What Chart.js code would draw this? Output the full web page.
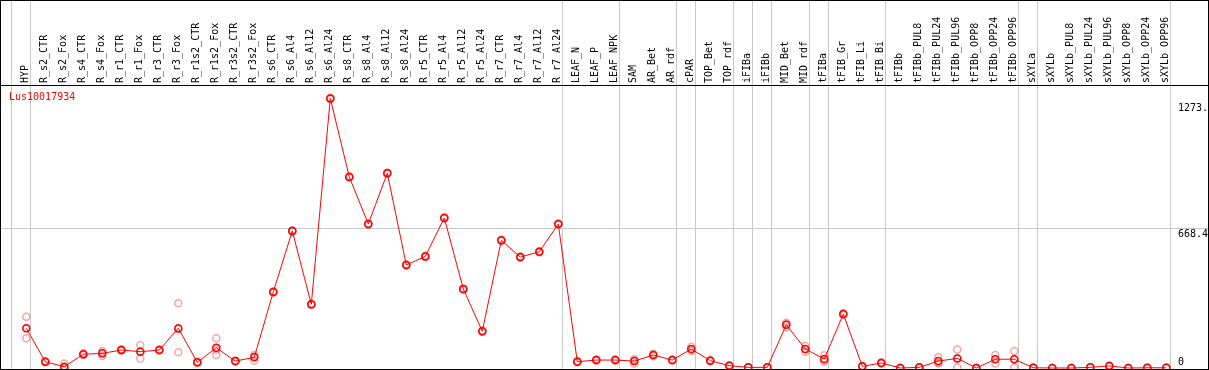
<!DOCTYPE html>
<html>
<head>
<meta charset="utf-8">
<script src="https://cdn.jsdelivr.net/npm/chart.js@4/dist/chart.umd.min.js"></script>
<style>
html,body{margin:0;padding:0;background:#fff;}
#wrap{position:relative;width:1209px;height:370px;}
</style>
</head>
<body>
<div id="wrap"><canvas id="c"></canvas></div>
<script>
const seriesName = 'Lus10017934';
const categories = ['HYP','R_s2_CTR','R_s2_Fox','R_s4_CTR','R_s4_Fox','R_r1_CTR','R_r1_Fox','R_r3_CTR','R_r3_Fox','R_r1s2_CTR','R_r1s2_Fox','R_r3s2_CTR','R_r3s2_Fox',
  'R_s6_CTR','R_s6_Al4','R_s6_Al12','R_s6_Al24','R_s8_CTR','R_s8_Al4','R_s8_Al12','R_s8_Al24','R_r5_CTR','R_r5_Al4','R_r5_Al12','R_r5_Al24','R_r7_CTR','R_r7_Al4','R_r7_Al12','R_r7_Al24',
  'LEAF_N','LEAF_P','LEAF_NPK','SAM','AR_Bet','AR_rdf','cPAR','TOP_Bet','TOP_rdf','iFIBa','iFIBb','MID_Bet','MID_rdf','tFIBa','tFIB_Gr','tFIB_Li','tFIB_Bi',
  'tFIBb','tFIBb_PUL8','tFIBb_PUL24','tFIBb_PUL96','tFIBb_OPP8','tFIBb_OPP24','tFIBb_OPP96','sXYLa','sXYLb','sXYLb_PUL8','sXYLb_PUL24','sXYLb_PUL96','sXYLb_OPP8','sXYLb_OPP24','sXYLb_OPP96'];

const meanValues = [190,30,6,66,70,86,78,86,190,27,97,33,51,
  364,656,305,1290,914,689,932,493,534,718,378,176,611,531,556,689,30,
  38,38,33,62,38,91,35,11,3,3,207,91,43,258,8,24,
  0,3,33,46,0,42,42,1,0,0,3,10,0,1,1];
const repA = [245,32,22,70,81,90,110,88,310,30,142,35,62,
  367,659,308,1293,917,692,935,496,537,721,381,179,614,534,559,692,33,
  41,41,42,68,41,102,38,13,4,4,217,105,61,262,10,27,
  0,4,51,89,0,62,81,2,0,0,4,12,0,2,2];
const repB = [142,28,0,62,57,82,45,84,75,24,62,31,35,
  361,653,302,1287,911,686,929,490,531,715,375,173,608,528,553,686,27,
  35,35,22,56,35,81,32,9,2,2,195,78,38,254,6,21,
  0,2,25,3,0,22,3,0,0,0,2,8,0,0,0];
const repC = [190,30,0,66,72,86,80,86,185,27,87,33,56,
  364,656,305,1290,914,689,932,493,534,718,378,176,611,531,556,689,30,
  38,38,35,62,38,90,35,11,3,3,209,90,30,258,8,24,
  0,3,23,46,0,42,42,1,0,0,3,10,0,1,1];

const separatorsAfter = [-1,0,28,31,34,35,37,38,39,41,42,45,52,53,60];
const yTickValues = [1273, 668.4, 0];
const yTickLabels = ['1273.', '668.4', '0'];
const yGridValues = [668.4];

const FONT = '"DejaVu Sans Mono", "Liberation Mono", monospace';
const toPts = arr => arr.map((v,i)=>({x:i,y:v}));

const repStyle = {
  showLine:false, pointRadius:3.5, pointBorderWidth:1.5,
  pointBorderColor:'rgba(232,110,110,0.6)', pointBackgroundColor:'rgba(0,0,0,0)',
  borderColor:'rgba(0,0,0,0)', order:2
};

const decor = {
  id:'decor',
  beforeDatasetsDraw(chart){
    const ctx = chart.ctx, xs = chart.scales.x, ys = chart.scales.y, a = chart.chartArea;
    ctx.save();
    ctx.strokeStyle = '#c8c8c8'; ctx.lineWidth = 1;
    separatorsAfter.forEach(i=>{
      const px = Math.round(xs.getPixelForValue(i) + 4) + 0.5;
      ctx.beginPath(); ctx.moveTo(px, 0); ctx.lineTo(px, a.bottom); ctx.stroke();
    });
    yGridValues.forEach(v=>{
      const py = Math.round(ys.getPixelForValue(v)) + 0.5;
      ctx.beginPath(); ctx.moveTo(a.left, py); ctx.lineTo(a.right, py); ctx.stroke();
    });
    ctx.restore();
  },
  afterDraw(chart){
    const ctx = chart.ctx, ys = chart.scales.y, a = chart.chartArea;
    ctx.save();
    ctx.font = '10px ' + FONT;
    ctx.fillStyle = '#000'; ctx.textAlign = 'left';
    yTickValues.forEach((v,k)=>{
      let py = ys.getPixelForValue(v) + 1;
      if (py + 11 > a.bottom) { ctx.textBaseline = 'bottom'; py = a.bottom - 2; }
      else { ctx.textBaseline = 'top'; }
      ctx.fillText(yTickLabels[k], 1178, py);
    });
    ctx.fillStyle = '#ff0000'; ctx.textBaseline = 'middle';
    ctx.fillText(chart.data.datasets[0].label, 9, a.top + 12);
    ctx.strokeStyle = '#000'; ctx.lineWidth = 1;
    ctx.strokeRect(0.5, 0.5, 1208, 369);
    ctx.beginPath(); ctx.moveTo(0, 85.5); ctx.lineTo(1209, 85.5); ctx.stroke();
    ctx.restore();
  }
};

new Chart(document.getElementById('c'), {
  type:'line',
  data:{
    datasets:[
      {label:seriesName, data:toPts(meanValues), borderColor:'#ff0000', borderWidth:1,
       pointRadius:3.5, pointBorderWidth:1.5, pointBorderColor:'#ff0000',
       pointBackgroundColor:'rgba(0,0,0,0)', tension:0, order:0},
      Object.assign({label:'rep1', data:toPts(repA)}, repStyle),
      Object.assign({label:'rep2', data:toPts(repB)}, repStyle),
      Object.assign({label:'rep3', data:toPts(repC)}, repStyle)
    ]
  },
  options:{
    responsive:true, maintainAspectRatio:false, animation:false, devicePixelRatio:1,
    layout:{autoPadding:false, padding:{left:1, right:1, top:0, bottom:1}},
    plugins:{legend:{display:false}, tooltip:{enabled:false}},
    scales:{
      x:{type:'linear', position:'top', min:-1.332, max:62.195,
        grid:{display:false, drawTicks:false}, border:{display:false},
        afterBuildTicks(s){ s.ticks = categories.map((c,i)=>({value:i})); },
        afterFit(s){ s.height = 85; s.paddingLeft = 0; s.paddingRight = 0; },
        ticks:{autoSkip:false, minRotation:90, maxRotation:90, padding:2, labelOffset:11,
          color:'#000', font:{family:FONT, size:10},
          callback:(v)=>categories[v]}
      },
      y:{type:'linear', display:false, min:-4.785, max:1354.2}
    }
  },
  plugins:[decor]
});
</script>
</body>
</html>
